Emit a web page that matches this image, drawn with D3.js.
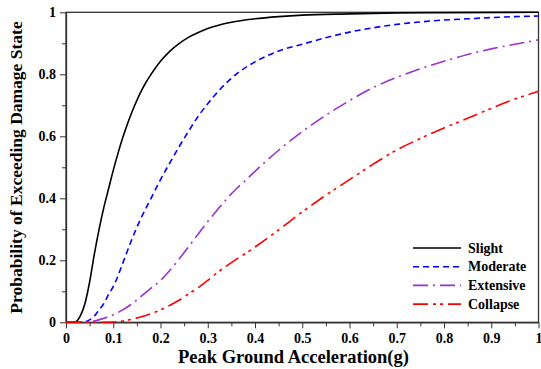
<!DOCTYPE html>
<html>
<head>
<meta charset="utf-8">
<script src="https://cdn.jsdelivr.net/npm/d3@7/dist/d3.min.js"></script>
<style>
  html, body { margin: 0; padding: 0; background: #fff; }
  svg { display: block; }
</style>
</head>
<body>
<svg id="chart" width="541" height="369"></svg>
<script>
// Fragility curves: probability of exceeding each damage state vs PGA (g)
const slightPGA  = [0, 0.01, 0.02, 0.03, 0.04, 0.05, 0.06, 0.07, 0.08, 0.09, 0.10, 0.11, 0.12, 0.13, 0.14, 0.15, 0.16, 0.17, 0.18, 0.19, 0.20, 0.22, 0.24, 0.26, 0.28, 0.30, 0.35, 0.40, 0.45, 0.50, 0.60, 0.70, 0.80, 1.00];
const slightProb = [0, 0, 0.002, 0.02, 0.06, 0.13, 0.22, 0.30, 0.37, 0.43, 0.49, 0.545, 0.595, 0.64, 0.68, 0.716, 0.748, 0.776, 0.80, 0.822, 0.842, 0.875, 0.90, 0.92, 0.935, 0.948, 0.968, 0.979, 0.986, 0.991, 0.995, 0.998, 0.999, 1.0];

const moderatePGA  = [0, 0.02, 0.04, 0.05, 0.06, 0.07, 0.08, 0.09, 0.10, 0.12, 0.14, 0.16, 0.18, 0.20, 0.22, 0.24, 0.26, 0.28, 0.30, 0.33, 0.36, 0.40, 0.45, 0.50, 0.55, 0.60, 0.65, 0.70, 0.75, 0.80, 0.85, 0.90, 0.95, 1.00];
const moderateProb = [0, 0, 0.002, 0.008, 0.02, 0.04, 0.06, 0.09, 0.115, 0.19, 0.27, 0.34, 0.40, 0.46, 0.515, 0.568, 0.618, 0.665, 0.705, 0.758, 0.80, 0.84, 0.875, 0.897, 0.918, 0.936, 0.95, 0.961, 0.969, 0.975, 0.979, 0.983, 0.986, 0.988];

const extensivePGA  = [0, 0.04, 0.06, 0.08, 0.10, 0.12, 0.14, 0.16, 0.18, 0.20, 0.22, 0.24, 0.26, 0.28, 0.30, 0.32, 0.34, 0.36, 0.38, 0.40, 0.42, 0.45, 0.50, 0.55, 0.60, 0.65, 0.70, 0.75, 0.80, 0.85, 0.90, 0.95, 1.00];
const extensiveProb = [0, 0, 0.004, 0.013, 0.024, 0.04, 0.06, 0.085, 0.11, 0.135, 0.168, 0.205, 0.245, 0.285, 0.325, 0.362, 0.398, 0.43, 0.458, 0.487, 0.515, 0.555, 0.615, 0.668, 0.715, 0.757, 0.79, 0.818, 0.842, 0.864, 0.882, 0.897, 0.911];

const collapsePGA  = [0, 0.08, 0.10, 0.12, 0.14, 0.16, 0.18, 0.20, 0.22, 0.24, 0.26, 0.28, 0.30, 0.32, 0.34, 0.36, 0.38, 0.40, 0.45, 0.50, 0.55, 0.60, 0.65, 0.70, 0.75, 0.80, 0.85, 0.90, 0.95, 1.00];
const collapseProb = [0, 0, 0.001, 0.004, 0.01, 0.018, 0.028, 0.04, 0.055, 0.072, 0.092, 0.112, 0.135, 0.16, 0.182, 0.203, 0.222, 0.243, 0.298, 0.356, 0.41, 0.46, 0.51, 0.556, 0.593, 0.627, 0.658, 0.69, 0.72, 0.745];

const seriesNames  = ["Slight", "Moderate", "Extensive", "Collapse"];
const seriesColors = ["#000000", "#0000ff", "#9a32cd", "#ff0000"];
const seriesDashes = [null, "6,4", "15,5,2,5", "15,5,3,4,3,5"];

const xTickValues = [0, 0.1, 0.2, 0.3, 0.4, 0.5, 0.6, 0.7, 0.8, 0.9, 1];
const xTickLabels = ["0", "0.1", "0.2", "0.3", "0.4", "0.5", "0.6", "0.7", "0.8", "0.9", "1"];
const yTickValues = [0, 0.2, 0.4, 0.6, 0.8, 1];
const yTickLabels = ["0", "0.2", "0.4", "0.6", "0.8", "1"];

const series = [
  { x: slightPGA, y: slightProb },
  { x: moderatePGA, y: moderateProb },
  { x: extensivePGA, y: extensiveProb },
  { x: collapsePGA, y: collapseProb }
].map((s, i) => ({
  name: seriesNames[i], color: seriesColors[i], dash: seriesDashes[i],
  points: s.x.map((v, j) => [v, s.y[j]])
}));

const FONT = "Liberation Serif";
const svg = d3.select("#chart");
const margin = { left: 66, right: 2.5, top: 12.3, bottom: 46.7 };
const W = 541, H = 369;
const x = d3.scaleLinear().domain([0, 1]).range([margin.left, W - margin.right]);
const y = d3.scaleLinear().domain([0, 1]).range([H - margin.bottom, margin.top]);

// minor ticks
const xMinor = d3.range(0.05, 1, 0.1);
const yMinor = d3.range(0.1, 1, 0.2);

svg.append("g").attr("transform", `translate(0,${y(0)})`)
  .call(d3.axisBottom(x).tickValues(xTickValues).tickFormat((d, i) => xTickLabels[i]).tickSizeInner(6).tickSizeOuter(0).tickPadding(5));
svg.append("g").attr("transform", `translate(0,${y(0)})`)
  .call(d3.axisBottom(x).tickValues(xMinor).tickFormat("").tickSizeInner(4).tickSizeOuter(0))
  .select(".domain").remove();

svg.append("g").attr("transform", `translate(${x(0)},0)`)
  .call(d3.axisLeft(y).tickValues(yTickValues).tickFormat((d, i) => yTickLabels[i]).tickSizeInner(6).tickSizeOuter(0).tickPadding(4));
svg.append("g").attr("transform", `translate(${x(0)},0)`)
  .call(d3.axisLeft(y).tickValues(yMinor).tickFormat("").tickSizeInner(4).tickSizeOuter(0))
  .select(".domain").remove();

svg.selectAll("g").attr("font-family", FONT);
svg.selectAll(".tick text").attr("font-family", FONT).attr("font-size", 14).attr("font-weight", "bold").attr("fill", "#000");
svg.selectAll(".tick line").attr("stroke", "#333").attr("stroke-width", 1);
svg.selectAll(".domain").attr("stroke", "#333").attr("stroke-width", 1.3);

// frame
svg.append("rect")
  .attr("x", x(0)).attr("y", y(1))
  .attr("width", x(1) - x(0)).attr("height", y(0) - y(1))
  .attr("fill", "none").attr("stroke", "#333").attr("stroke-width", 1.3);

// curves
const line = d3.line().x(d => x(d[0])).y(d => y(d[1])).curve(d3.curveMonotoneX);
svg.append("g").selectAll("path").data(series).join("path")
  .attr("d", d => line(d.points))
  .attr("fill", "none")
  .attr("stroke", d => d.color)
  .attr("stroke-width", 1.6)
  .attr("stroke-dasharray", d => d.dash);

// legend
const legend = svg.append("g").attr("transform", "translate(413,248)");
const rows = legend.selectAll("g").data(series).join("g")
  .attr("transform", (d, i) => `translate(0,${i * 18.7})`);
rows.append("line").attr("x1", 0).attr("x2", 48).attr("y1", 0).attr("y2", 0)
  .attr("stroke", d => d.color).attr("stroke-width", 1.6)
  .attr("stroke-dasharray", d => d.dash);
rows.append("text").attr("x", 55).attr("y", 4.5)
  .attr("font-family", FONT).attr("font-weight", "bold")
  .attr("font-size", 14).text(d => d.name);

// axis titles
svg.append("text").attr("x", 293.5).attr("y", 363)
  .attr("text-anchor", "middle").attr("font-family", FONT).attr("font-weight", "bold").attr("font-size", 18.5)
  .text("Peak Ground Acceleration(g)");
svg.append("text")
  .attr("transform", `translate(21.5,167.5) rotate(-90)`)
  .attr("text-anchor", "middle").attr("font-family", FONT).attr("font-weight", "bold").attr("font-size", 17.5)
  .text("Probability of Exceeding Damage State");
</script>
</body>
</html>
